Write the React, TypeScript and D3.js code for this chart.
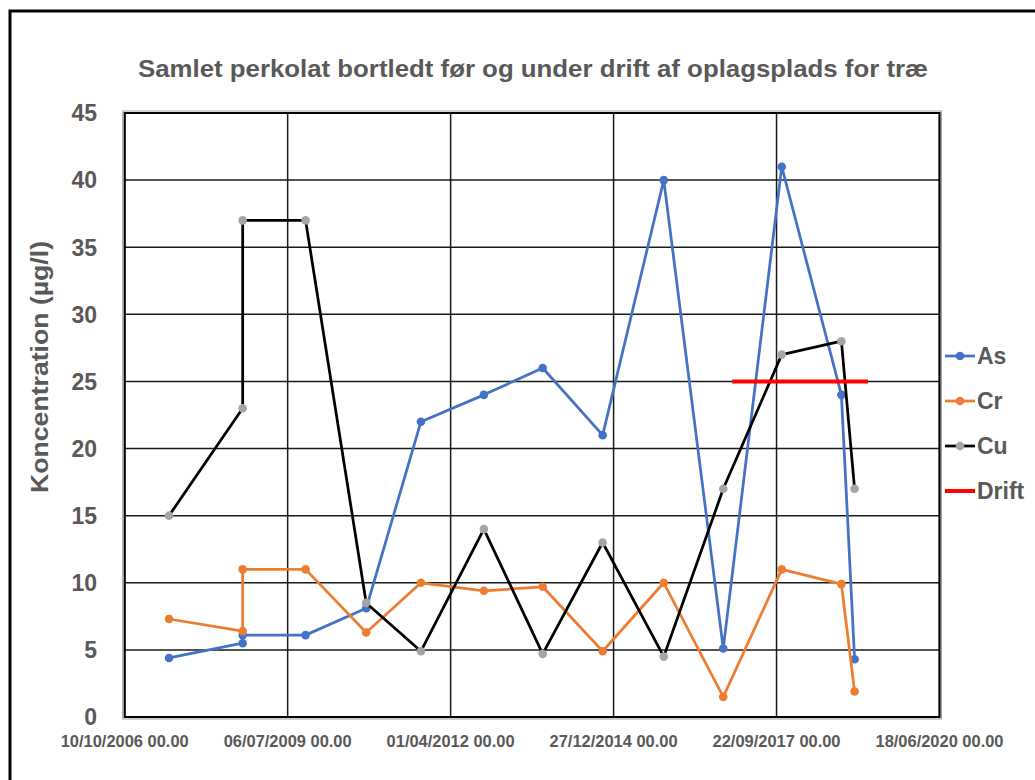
import * as d3 from "d3";

const W = 1035;
const H = 780;

// sample dates (the 2008 sample appears twice: two analyses on the same day)
const sampleDates = [
  "2007-07-09",
  "2008-10-03",
  "2008-10-03",
  "2009-10-24",
  "2010-10-31",
  "2011-10-02",
  "2012-10-22",
  "2013-10-18",
  "2014-10-21",
  "2015-10-31",
  "2016-10-30",
  "2017-10-24",
  "2018-10-25",
  "2019-01-14",
];
const asValues = [4.4, 5.5, 6.1, 6.1, 8.1, 22, 24, 26, 21, 40, 5.1, 41, 24, 4.3];
const crValues = [7.3, 6.4, 11, 11, 6.3, 10, 9.4, 9.7, 4.9, 10, 1.5, 11, 9.9, 1.9];
const cuValues = [15, 23, 37, 37, 8.5, 4.9, 14, 4.7, 13, 4.5, 17, 27, 28, 17];
const driftDates = ["2016-12-24", "2019-04-06"];
const driftValues = [25, 25];

const xTickDates = [
  "2006-10-10",
  "2009-07-06",
  "2012-04-01",
  "2014-12-27",
  "2017-09-22",
  "2020-06-18",
];
const yTicks = [0, 5, 10, 15, 20, 25, 30, 35, 40, 45];

const title = "Samlet perkolat bortledt før og under drift af oplagsplads for træ";
const yTitle = "Koncentration (µg/l)";

const series = [
  { name: "As", values: asValues, line: "#4472C4", marker: "#4472C4" },
  { name: "Cr", values: crValues, line: "#ED7D31", marker: "#ED7D31" },
  { name: "Cu", values: cuValues, line: "#000000", marker: "#A5A5A5" },
];

const parse = (s: string) => new Date(s + "T00:00:00Z");
const fmt = d3.utcFormat("%d/%m/%Y %H.%M");

const left = 124.7;
const right = 939.5;
const top = 113;
const bottom = 717;

const grey = "#595959";
const font = "'Liberation Sans', Arial, sans-serif";

export default function App() {
  const x = d3
    .scaleUtc()
    .domain([parse(xTickDates[0]), parse(xTickDates[xTickDates.length - 1])])
    .range([left, right]);
  const y = d3.scaleLinear().domain([0, 45]).range([bottom, top]);

  const line = d3
    .line<[string, number]>()
    .x((d) => x(parse(d[0])))
    .y((d) => y(d[1]));

  const legendItems = [
    ...series.map((s) => ({ name: s.name, line: s.line, marker: s.marker, drift: false })),
    { name: "Drift", line: "#FF0000", marker: "", drift: true },
  ];

  return (
    <div style={{ position: "absolute", left: 0, top: 0 }}>
      <svg width={W} height={H} style={{ display: "block", background: "#fff" }}>
        <rect x={10} y={11} width={W + 20} height={H + 20} fill="#fff" stroke="#000" strokeWidth={3} />

        <text
          x={533}
          y={77}
          textAnchor="middle"
          fontFamily={font}
          fontWeight="bold"
          fontSize={24}
          fill={grey}
          textLength={790}
          lengthAdjust="spacingAndGlyphs"
        >
          {title}
        </text>

        {/* grid */}
        {yTicks.map((t) => (
          <line key={"gy" + t} x1={left} x2={right} y1={y(t)} y2={y(t)} stroke="#1a1a1a" strokeWidth={1.5} />
        ))}
        {xTickDates.map((t) => (
          <line
            key={"gx" + t}
            x1={x(parse(t))}
            x2={x(parse(t))}
            y1={top}
            y2={bottom}
            stroke="#1a1a1a"
            strokeWidth={1.5}
          />
        ))}
        <rect
          x={left - 2}
          y={top - 2}
          width={right - left + 4}
          height={bottom - top + 4}
          fill="none"
          stroke="#a0a0a0"
          strokeWidth={1}
        />
        <rect x={left} y={top} width={right - left} height={bottom - top} fill="none" stroke="#000" strokeWidth={2} />

        {/* y tick labels */}
        {yTicks.map((t) => (
          <text
            key={"ty" + t}
            x={97}
            y={y(t)}
            dy="0.36em"
            textAnchor="end"
            fontFamily={font}
            fontWeight="bold"
            fontSize={23}
            fill={grey}
          >
            {t}
          </text>
        ))}
        <text
          transform={`translate(48,367) rotate(-90)`}
          textAnchor="middle"
          fontFamily={font}
          fontWeight="bold"
          fontSize={23}
          fill={grey}
          textLength={252}
          lengthAdjust="spacingAndGlyphs"
        >
          {yTitle}
        </text>

        {/* x tick labels */}
        {xTickDates.map((t) => (
          <text
            key={"tx" + t}
            x={x(parse(t))}
            y={747}
            textAnchor="middle"
            fontFamily={font}
            fontWeight="bold"
            fontSize={16.5}
            fill={grey}
            textLength={128}
            lengthAdjust="spacingAndGlyphs"
          >
            {fmt(parse(t))}
          </text>
        ))}

        {/* series */}
        {series.map((s) => {
          const pts = sampleDates.map((d, i) => [d, s.values[i]] as [string, number]);
          return (
            <g key={s.name}>
              <path d={line(pts) || ""} fill="none" stroke={s.line} strokeWidth={2.75} strokeLinejoin="round" />
              {pts.map((p, i) => (
                <circle key={i} cx={x(parse(p[0]))} cy={y(p[1])} r={4.3} fill={s.marker} />
              ))}
            </g>
          );
        })}
        <path
          d={line(driftDates.map((d, i) => [d, driftValues[i]] as [string, number])) || ""}
          fill="none"
          stroke="#FF0000"
          strokeWidth={4}
        />

        {/* legend */}
        {legendItems.map((s, i) => {
          const ly = 356 + i * 45;
          return (
            <g key={"lg" + s.name}>
              <line x1={945} x2={975} y1={ly} y2={ly} stroke={s.line} strokeWidth={s.drift ? 4 : 2.75} />
              {!s.drift && <circle cx={960} cy={ly} r={4.3} fill={s.marker} />}
              <text x={977} y={ly} dy="0.36em" fontFamily={font} fontWeight="bold" fontSize={23} fill={grey}>
                {s.name}
              </text>
            </g>
          );
        })}
      </svg>
    </div>
  );
}
